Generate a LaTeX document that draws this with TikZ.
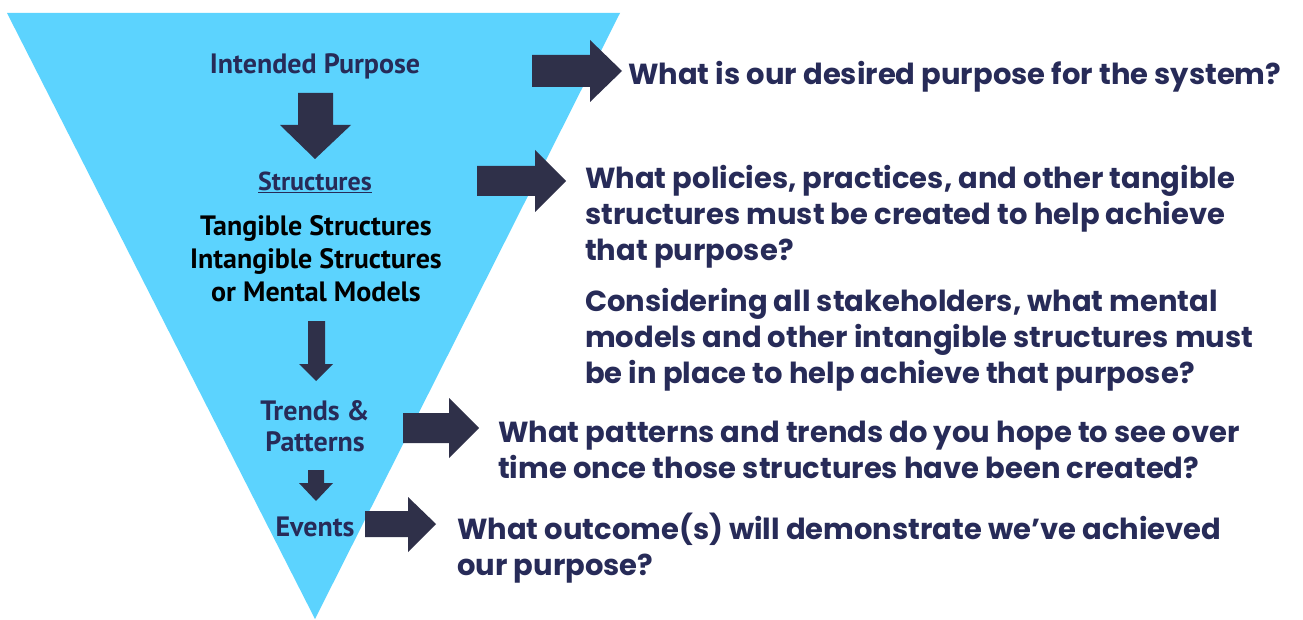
\documentclass[tikz,border=0pt]{standalone}
\usepackage{fontspec}
\setmainfont{Poppins}
\newfontfamily\labelfont{PT Sans}
\usetikzlibrary{positioning}
\definecolor{funnel}{HTML}{5CD3FE}
\definecolor{arrowblue}{HTML}{2F3049}
\definecolor{ink}{HTML}{272B58}

\tikzset{
  question/.style={anchor=west, inner sep=0pt, align=left, text=ink,
    font=\fontsize{29}{36}\selectfont\bfseries},
  level/.style={inner sep=0pt, align=center, text=ink,
    font=\labelfont\fontsize{28}{33}\selectfont\bfseries},
  blk/.style={fill=arrowblue}
}

\begin{document}
\begin{tikzpicture}[x=1pt, y=-1pt]
    \useasboundingbox (0,0) rectangle (1303,620);
    \fill[white] (0,0) rectangle (1303,620);

    % funnel
    \fill[funnel] (7,13) -- (620,13) -- (315,619) -- cycle;

    % labels in the funnel
    \node[level] (purpose) at (315,66) {Intended Purpose};
    \node[level, font=\labelfont\fontsize{26}{30}\selectfont\bfseries] (struct) at (315,182) {\underline{Structures}};
    \node[level, text=black] (kinds) at (316,259) {Tangible Structures\\Intangible Structures\\or Mental Models};
    \node[level, font=\labelfont\fontsize{28}{31}\selectfont\bfseries] (trends) at (315,426) {Trends \&\\Patterns};
    \node[level] (events) at (315,527) {Events};

    % down arrows
    \fill[blk] (298,93) -- (333,93) -- (333,125) -- (351,125) -- (315,159) -- (280,125) -- (298,125) -- cycle;
    \fill[blk] (308,321) -- (325,321) -- (325,364) -- (333,364) -- (316,381) -- (299,364) -- (308,364) -- cycle;
    \fill[blk] (308,470) -- (324,470) -- (324,483) -- (333,483) -- (316,501) -- (299,483) -- (308,483) -- cycle;

    % right arrows
    \fill[blk] (532,55) -- (590,55) -- (590,40) -- (622,71) -- (590,102) -- (590,87) -- (532,87) -- cycle;
    \fill[blk] (477,166) -- (535,166) -- (535,150) -- (566,181) -- (535,212) -- (535,196) -- (477,196) -- cycle;
    \fill[blk] (403,413) -- (449,413) -- (449,398) -- (479,428) -- (449,458) -- (449,443) -- (403,443) -- cycle;
    \fill[blk] (365,511) -- (408,511) -- (408,497) -- (436,524) -- (408,552) -- (408,537) -- (365,537) -- cycle;

    % questions
    \node[question] (q1) at (628,77) {What is our desired purpose for the system?};
    \node[question] (q2) at (585,217) {What policies, practices, and other tangible\\structures must be created to help achieve\\that purpose?};
    \node[question] (q3) at (585,340) {Considering all stakeholders, what mental\\models and other intangible structures must\\be in place to help achieve that purpose?};
    \node[question] (q4) at (498,450) {What patterns and trends do you hope to see over\\time once those structures have been created?};
    \node[question] (q5) at (457,548) {What outcome(s) will demonstrate we’ve achieved\\our purpose?};
\end{tikzpicture}
\end{document}
